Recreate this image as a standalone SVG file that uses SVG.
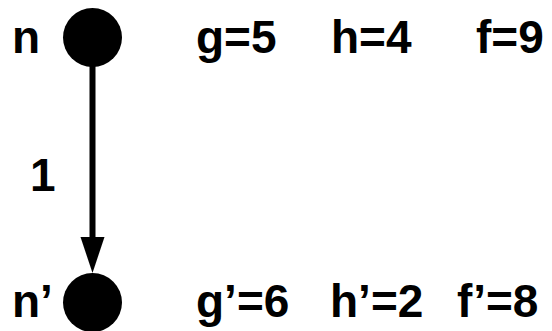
<svg xmlns="http://www.w3.org/2000/svg" width="552" height="331" viewBox="0 0 552 331">
<style>
text{font-family:"Liberation Sans",Arial,sans-serif;font-weight:bold;font-size:46px;fill:#000}
.node{fill:#000}
.edge{stroke:#000;stroke-width:6}
.head{fill:#000}
</style>
<rect width="552" height="331" fill="#fff"/>
<g id="connectors">
<line class="edge" x1="92.5" y1="66" x2="92.5" y2="242"/>
<path class="head" d="M80.5,237 L104.5,237 L92.5,273 Z"/>
<text x="30" y="191">1</text>
</g>
<g id="node-n">
<circle class="node" cx="92.5" cy="37.5" r="29.5"/>
<text x="12" y="53">n</text>
<text x="196" y="53">g=5</text>
<text x="331" y="53">h=4</text>
<text x="476" y="53">f=9</text>
</g>
<g id="node-n-prime">
<circle class="node" cx="92.5" cy="302.5" r="29.5"/>
<text x="12" y="317">n’</text>
<text x="196" y="317">g’=6</text>
<text x="330" y="317">h’=2</text>
<text x="457" y="317">f’=8</text>
</g>
</svg>
